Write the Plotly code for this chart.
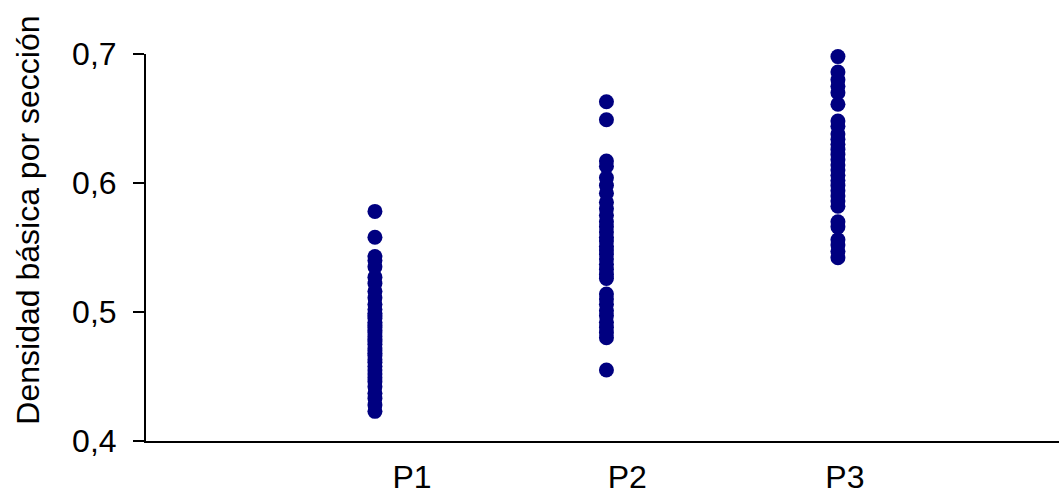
import plotly.graph_objects as go

categories = ["P1", "P2", "P3"]
cat_pos = [1, 2, 3]
label_pos = [1.16, 2.09, 3.03]

p1 = [0.578, 0.558, 0.543, 0.540, 0.535, 0.527, 0.522, 0.516, 0.511, 0.506,
      0.502, 0.499, 0.497, 0.495, 0.492, 0.490, 0.488, 0.486, 0.484, 0.481,
      0.479, 0.477, 0.475, 0.472, 0.470, 0.468, 0.466, 0.463, 0.461, 0.458,
      0.455, 0.452, 0.449, 0.446, 0.442, 0.437, 0.433, 0.428, 0.423]
p2 = [0.663, 0.649, 0.617, 0.613, 0.604, 0.598, 0.592, 0.585, 0.580, 0.575,
      0.570, 0.566, 0.562, 0.558, 0.555, 0.551, 0.548, 0.545, 0.541, 0.537,
      0.533, 0.529, 0.526, 0.514, 0.510, 0.506, 0.501, 0.497, 0.492, 0.488,
      0.484, 0.480, 0.455]
p3 = [0.698, 0.686, 0.680, 0.675, 0.670, 0.661, 0.648, 0.644, 0.638, 0.634,
      0.630, 0.626, 0.622, 0.618, 0.614, 0.610, 0.606, 0.602, 0.598, 0.594,
      0.590, 0.586, 0.582, 0.570, 0.566, 0.556, 0.552, 0.547, 0.542]

series = [p1, p2, p3]
y_ticks = [0.4, 0.5, 0.6, 0.7]
y_tick_text = ["0,4", "0,5", "0,6", "0,7"]

fig = go.Figure()
for pos, vals in zip(cat_pos, series):
    fig.add_trace(go.Scatter(
        x=[pos] * len(vals), y=vals, mode="markers",
        marker=dict(color="#000080", size=15, line=dict(width=0)),
        showlegend=False, cliponaxis=False,
    ))

font_family = "Liberation Sans, Arial, sans-serif"
fig.update_layout(
    width=1059, height=500,
    margin=dict(l=146, r=0, t=54, b=59, autoexpand=False),
    paper_bgcolor="white", plot_bgcolor="white",
    font=dict(family=font_family, size=32, color="black"),
    xaxis=dict(range=[0.011, 3.955], tickvals=label_pos, ticktext=categories,
               showgrid=False, zeroline=False, showline=True, linecolor="black",
               linewidth=2, ticks="", tickfont=dict(size=32),
               ticklabelstandoff=7, automargin=False),
    yaxis=dict(range=[0.4, 0.7], tickvals=y_ticks, ticktext=y_tick_text,
               showgrid=False, zeroline=False, showline=True, linecolor="black",
               linewidth=2, ticks="outside", ticklen=11, tickwidth=2,
               tickcolor="black", tickfont=dict(size=32),
               ticklabelstandoff=10, automargin=False),
    annotations=[dict(text="Densidad básica por sección", textangle=-90,
                      xref="paper", yref="paper", x=-0.129, y=0.57,
                      xanchor="center", yanchor="middle", showarrow=False,
                      font=dict(size=32))],
)

fig.write_html(
    "out.html",
    config={"displayModeBar": False},
    post_script="document.body.style.margin='0';document.body.style.overflow='hidden';",
)
